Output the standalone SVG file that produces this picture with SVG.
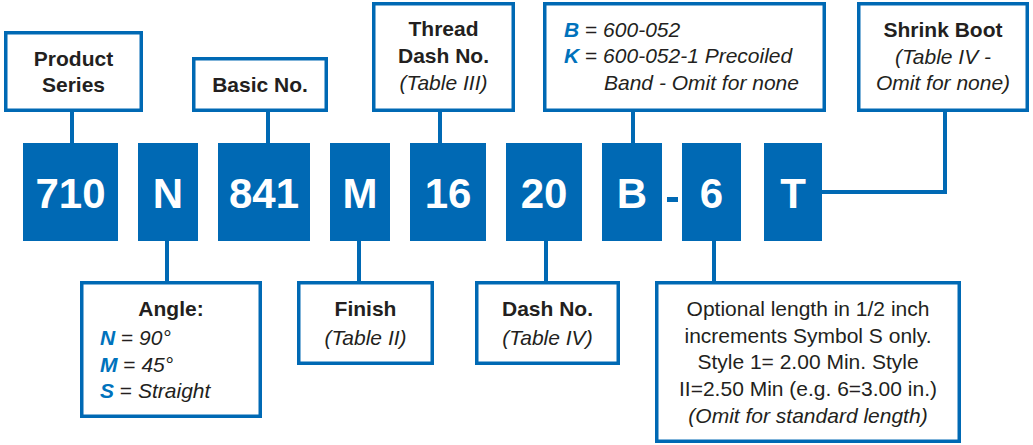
<svg xmlns="http://www.w3.org/2000/svg" width="1033" height="445" viewBox="0 0 1033 445">
<style>
.lb{fill:#fff;stroke:#0069B4;stroke-width:3.5}
.cb{fill:#0069B4}
.ct{font-family:"Liberation Sans",Arial,sans-serif;font-weight:bold;font-size:42px;fill:#fff;text-anchor:middle}
.t{font-family:"Liberation Sans",Arial,sans-serif;font-size:21px;fill:#231F20}
.b{font-weight:bold}
.i{font-style:italic}
.u{font-style:normal}
.m{text-anchor:middle}
.k{fill:#0072BC;font-weight:bold;font-style:italic}
.cn{fill:none;stroke:#0069B4;stroke-width:4}
</style>
<g id="connectors">
<line class="cn" x1="72" y1="112" x2="72" y2="144"/>
<line class="cn" x1="268" y1="112" x2="268" y2="144"/>
<line class="cn" x1="440" y1="112" x2="440" y2="144"/>
<line class="cn" x1="633" y1="112" x2="633" y2="144"/>
<polyline class="cn" points="821,192 945,192 945,112"/>
<line class="cn" x1="167" y1="240" x2="167" y2="282"/>
<line class="cn" x1="359" y1="240" x2="359" y2="282"/>
<line class="cn" x1="546" y1="240" x2="546" y2="282"/>
<line class="cn" x1="714" y1="240" x2="714" y2="282"/>
</g>
<g id="product-series">
<rect class="lb" x="5.75" y="32.75" width="135.5" height="77.5"/>
<text class="t b m" x="73.5" y="66">Product</text>
<text class="t b m" x="73.5" y="92">Series</text>
</g>
<g id="basic-no">
<rect class="lb" x="193.75" y="58.75" width="132.5" height="51.5"/>
<text class="t b m" x="260" y="92">Basic No.</text>
</g>
<g id="thread-dash">
<rect class="lb" x="373.75" y="3.75" width="139.5" height="106.5"/>
<text class="t b m" x="443.5" y="36">Thread</text>
<text class="t b m" x="443.5" y="63">Dash No.</text>
<text class="t i m" x="443.5" y="90">(Table III)</text>
</g>
<g id="band">
<rect class="lb" x="544.75" y="3.75" width="279.5" height="106.5"/>
<text class="t i" x="564" y="37"><tspan class="k">B</tspan><tspan class="u"> = </tspan>600-052</text>
<text class="t i" x="564" y="63"><tspan class="k">K</tspan><tspan class="u"> = </tspan>600-052-1 Precoiled</text>
<text class="t i" x="604" y="90">Band - Omit for none</text>
</g>
<g id="shrink-boot">
<rect class="lb" x="858.75" y="3.75" width="168.5" height="106.5"/>
<text class="t b m" x="943" y="37">Shrink Boot</text>
<text class="t i m" x="943" y="64">(Table IV -</text>
<text class="t i m" x="943" y="90">Omit for none)</text>
</g>
<g id="code-710"><rect class="cb" x="23" y="143" width="95" height="98"/><text class="ct" x="70.5" y="208">710</text></g>
<g id="code-N"><rect class="cb" x="138" y="143" width="60" height="98"/><text class="ct" x="168" y="208">N</text></g>
<g id="code-841"><rect class="cb" x="218" y="143" width="92" height="98"/><text class="ct" x="264" y="208">841</text></g>
<g id="code-M"><rect class="cb" x="330" y="143" width="60" height="98"/><text class="ct" x="360" y="208">M</text></g>
<g id="code-16"><rect class="cb" x="410" y="143" width="76" height="98"/><text class="ct" x="448" y="208">16</text></g>
<g id="code-20"><rect class="cb" x="506" y="143" width="76" height="98"/><text class="ct" x="544" y="208">20</text></g>
<g id="code-B"><rect class="cb" x="602" y="143" width="60" height="98"/><text class="ct" x="632" y="208">B</text></g>
<g id="code-dash"><rect class="cb" x="667" y="197" width="11" height="5"/></g>
<g id="code-6"><rect class="cb" x="682" y="143" width="59" height="98"/><text class="ct" x="711.5" y="208">6</text></g>
<g id="code-T"><rect class="cb" x="764" y="143" width="58" height="98"/><text class="ct" x="793" y="208">T</text></g>
<g id="angle">
<rect class="lb" x="81.75" y="282.75" width="178.5" height="133.5"/>
<text class="t b m" x="171" y="316">Angle:</text>
<text class="t i" x="100" y="345"><tspan class="k">N</tspan><tspan class="u"> = </tspan>90°</text>
<text class="t i" x="100" y="372"><tspan class="k">M</tspan><tspan class="u"> = </tspan>45°</text>
<text class="t i" x="100" y="398"><tspan class="k">S</tspan><tspan class="u"> = </tspan>Straight</text>
</g>
<g id="finish">
<rect class="lb" x="298.75" y="282.75" width="133.5" height="80.5"/>
<text class="t b m" x="365.5" y="316">Finish</text>
<text class="t i m" x="365.5" y="345">(Table II)</text>
</g>
<g id="dash-no">
<rect class="lb" x="476.75" y="282.75" width="141.5" height="80.5"/>
<text class="t b m" x="547.5" y="316">Dash No.</text>
<text class="t i m" x="547.5" y="345">(Table IV)</text>
</g>
<g id="optional-length">
<rect class="lb" x="656.75" y="282.75" width="302.5" height="158.5"/>
<text class="t m" x="808" y="316">Optional length in 1/2 inch</text>
<text class="t m" x="808" y="343">increments Symbol S only.</text>
<text class="t m" x="808" y="369">Style 1= 2.00 Min. Style</text>
<text class="t m" x="808" y="396">II=2.50 Min (e.g. 6=3.00 in.)</text>
<text class="t i m" x="808" y="423">(Omit for standard length)</text>
</g>
</svg>
